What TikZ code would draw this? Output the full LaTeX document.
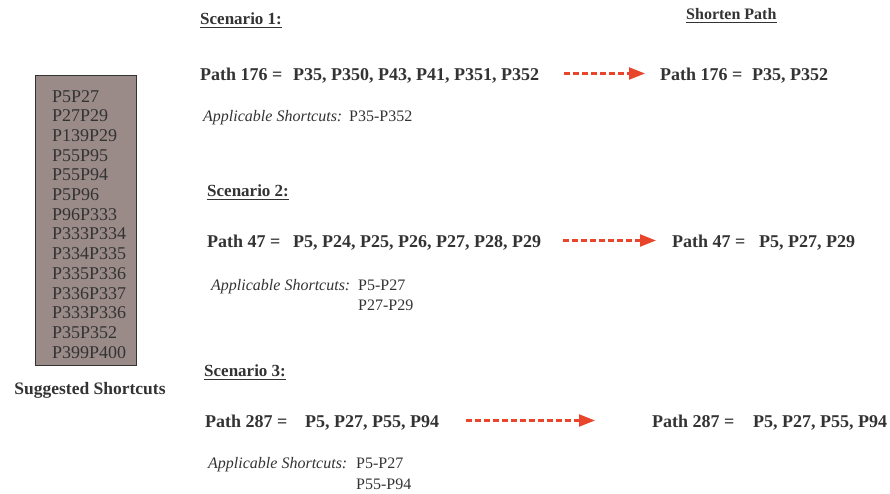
\documentclass[tikz,border=0pt]{standalone}
\usepackage{fontspec}
\setmainfont{Liberation Serif}
\usetikzlibrary{arrows.meta}
\definecolor{inkgray}{HTML}{333333}
\definecolor{boxfill}{HTML}{9A8B88}
\definecolor{arrowred}{HTML}{E8452C}
\tikzset{
  txt/.style={inner sep=0pt, anchor=base west, text=inkgray},
  pathtxt/.style={txt, font=\fontsize{18}{20}\selectfont\bfseries, text height=13pt, text depth=0pt},
  headtxt/.style={txt, font=\fontsize{17}{20}\selectfont\bfseries},
  appltxt/.style={txt, font=\fontsize{16}{19}\selectfont\itshape},
  cuttxt/.style={txt, font=\fontsize{16}{19}\selectfont},
  shortarrow/.style={arrowred, line width=2.3pt, dash pattern=on 6pt off 3pt,
    -{Triangle[length=16pt, width=12pt]}},
}

\begin{document}
\begin{tikzpicture}[x=1pt, y=-1pt]
  \useasboundingbox (0,0) rectangle (890,493);

  % suggested shortcuts box
  \node[draw=inkgray, fill=boxfill, line width=0.8pt, anchor=north west,
        minimum width=101pt, minimum height=290pt, inner sep=0pt] (box) at (35,75) {};
  \foreach \s [count=\i] in {P5P27,P27P29,P139P29,P55P95,P55P94,P5P96,P96P333,
      P333P334,P334P335,P335P336,P336P337,P333P336,P35P352,P399P400}
    \node[txt, font=\fontsize{18}{20}\selectfont] (item\i) at (52,{82.3+19.7*\i}) {\s};
  \node[txt, anchor=base, font=\fontsize{17.5}{20}\selectfont\bfseries] (boxlabel) at (90,394) {Suggested Shortcuts};

  % headings
  \node[headtxt] (sc1) at (200,24) {Scenario 1:};
  \node[headtxt] (sc2) at (207,196) {Scenario 2:};
  \node[headtxt] (sc3) at (204,376) {Scenario 3:};
  \node[txt, font=\fontsize{16}{19}\selectfont\bfseries] (shorten) at (686,19) {Shorten Path};
  \foreach \n in {sc1,sc2,sc3,shorten}
    \draw[inkgray, line width=0.8pt] ([yshift=-3.5pt]\n.base west) -- ([yshift=-3.5pt]\n.base east);

  % scenario 1
  \node[pathtxt] (lab1) at (200,80) {Path 176 =};
  \node[pathtxt] (list1) at (293,80) {P35, P350, P43, P41, P351, P352};
  \node[pathtxt] (rlab1) at (660,80) {Path 176 =};
  \node[pathtxt] (rlist1) at (752,80) {P35, P352};
  \draw[shortarrow, shorten <=25pt, shorten >=15pt] (list1.east) -- (rlab1.west);
  \node[appltxt] (app1) at (203,121) {Applicable Shortcuts:};
  \node[cuttxt] (cut1a) at (349,121) {P35-P352};

  % scenario 2
  \node[pathtxt] (lab2) at (207,247) {Path 47 =};
  \node[pathtxt] (list2) at (293,247) {P5, P24, P25, P26, P27, P28, P29};
  \node[pathtxt] (rlab2) at (672,247) {Path 47 =};
  \node[pathtxt] (rlist2) at (759,247) {P5, P27, P29};
  \draw[shortarrow, shorten <=22pt, shorten >=16pt] (list2.east) -- (rlab2.west);
  \node[appltxt] (app2) at (211,290) {Applicable Shortcuts:};
  \node[cuttxt] (cut2a) at (358,290) {P5-P27};
  \node[cuttxt, yshift=-20pt] (cut2b) at (cut2a.base west) {P27-P29};

  % scenario 3
  \node[pathtxt] (lab3) at (205,427) {Path 287 =};
  \node[pathtxt] (list3) at (305,427) {P5, P27, P55, P94};
  \node[pathtxt] (rlab3) at (652,427) {Path 287 =};
  \node[pathtxt] (rlist3) at (753,427) {P5, P27, P55, P94};
  \draw[shortarrow, shorten <=27pt, shorten >=57pt] (list3.east) -- (rlab3.west);
  \node[appltxt] (app3) at (208,468) {Applicable Shortcuts:};
  \node[cuttxt] (cut3a) at (356,468) {P5-P27};
  \node[cuttxt, yshift=-21pt] (cut3b) at (cut3a.base west) {P55-P94};
\end{tikzpicture}
\end{document}
